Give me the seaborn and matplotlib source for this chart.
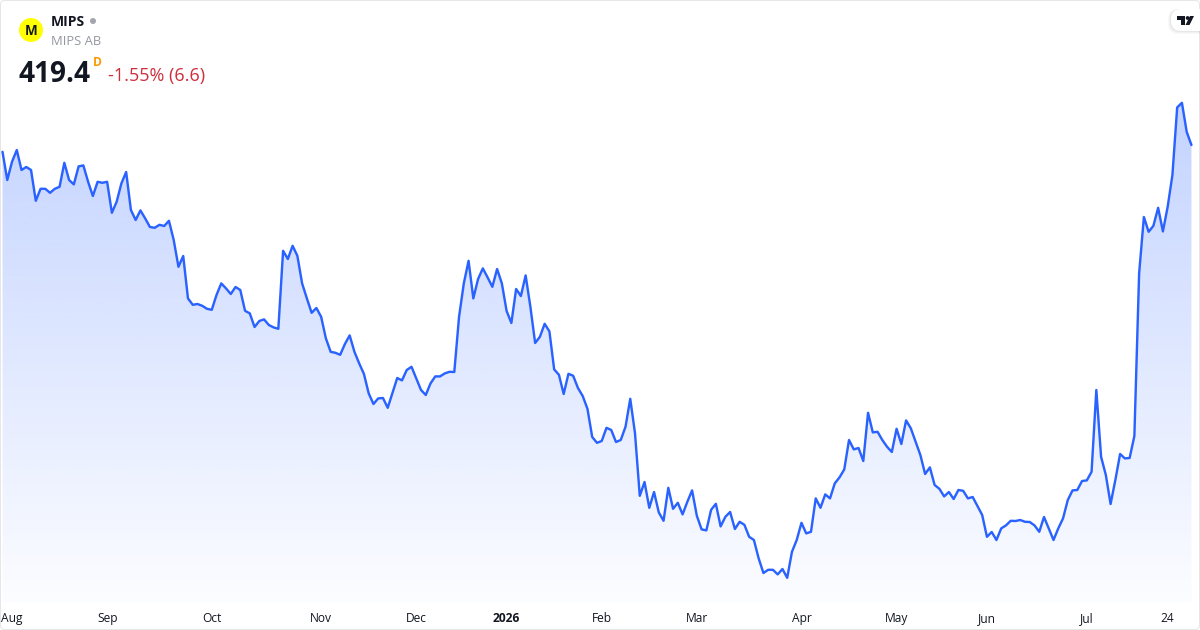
import numpy as np
import pandas as pd
import seaborn as sns
import matplotlib
matplotlib.use("Agg")
import matplotlib.pyplot as plt
from matplotlib.patches import Circle, FancyBboxPatch, Polygon, Rectangle
from matplotlib.transforms import ScaledTranslation

# ---- data -------------------------------------------------------------
prices = [
    416.0, 401.9, 411.0, 416.9, 406.9, 408.4, 406.9, 391.5, 397.5, 397.5,
    395.5, 397.5, 398.5, 410.5, 401.9, 399.7, 408.7, 409.2, 401.0, 393.9,
    401.0, 400.5, 401.0, 385.5, 391.0, 400.2, 405.9, 386.9, 381.9, 386.7,
    382.7, 378.4, 378.0, 379.5, 378.9, 381.5, 371.9, 358.5, 363.9, 342.7,
    339.5, 339.9, 339.0, 337.5, 337.0, 344.4, 350.2, 347.7, 344.9, 348.4,
    346.9, 336.5, 335.2, 328.4, 331.4, 332.2, 329.4, 328.2, 327.5, 366.5,
    362.4, 369.0, 364.0, 350.2, 342.7, 335.5, 337.9, 333.5, 322.7, 316.0,
    315.5, 314.5, 319.9, 324.2, 316.0, 310.2, 304.9, 295.2, 289.9, 292.7,
    292.9, 288.0, 295.5, 302.9, 301.7, 306.9, 308.5, 302.7, 296.9, 294.4,
    300.2, 303.7, 303.7, 305.2, 306.0, 305.9, 333.5, 350.2, 361.5, 342.7,
    352.4, 357.7, 353.2, 348.5, 357.4, 350.2, 336.4, 330.4, 347.4, 343.9,
    354.2, 338.5, 320.4, 323.5, 330.0, 326.2, 307.2, 304.5, 294.9, 305.0,
    304.0, 297.9, 293.9, 287.5, 273.4, 270.5, 271.4, 278.0, 276.9, 270.9,
    271.9, 278.5, 292.5, 275.2, 244.0, 250.9, 238.0, 245.9, 235.7, 231.5,
    248.0, 237.5, 240.5, 234.7, 241.0, 246.7, 234.0, 227.2, 226.7, 237.0,
    240.0, 228.7, 233.5, 235.9, 227.4, 231.0, 229.5, 223.5, 221.9, 212.7,
    205.4, 207.0, 207.0, 204.7, 207.4, 203.0, 216.0, 221.9, 230.5, 225.2,
    226.0, 242.7, 238.0, 244.7, 242.7, 250.2, 253.2, 257.2, 271.9, 267.2,
    267.9, 261.4, 285.5, 275.7, 276.0, 271.9, 268.5, 265.9, 277.5, 269.9,
    281.7, 277.7, 271.0, 264.4, 254.9, 258.2, 249.4, 247.5, 243.7, 245.9,
    242.4, 246.9, 246.5, 242.7, 243.4, 238.9, 234.4, 223.5, 225.9, 221.9,
    227.7, 229.2, 231.5, 231.4, 231.9, 231.0, 230.9, 229.2, 226.0, 233.4,
    227.7, 221.9, 227.7, 232.7, 241.9, 246.7, 246.9, 251.4, 251.7, 256.0,
    296.9, 263.5, 254.4, 239.9, 251.9, 264.9, 262.7, 262.9, 273.9, 355.2,
    383.4, 376.0, 379.0, 388.0, 376.2, 388.5, 404.4, 438.2, 440.5, 426.0,
    419.4,
]
tick_sessions = [0, 22, 44, 67, 87, 106, 126, 146, 168, 188, 207, 228, 245]
tick_labels = ["Aug", "Sep", "Oct", "Nov", "Dec", "2026", "Feb", "Mar",
               "Apr", "May", "Jun", "Jul", "24"]
ticker = "MIPS"
company = "MIPS AB"
last_price = "419.4"
change_text = "-1.55% (6.6)"

# ---- styling ----------------------------------------------------------
sns.set_theme(style="white")
plt.rcParams["font.family"] = ["Open Sans", "DejaVu Sans"]
PX = 72 / 100  # points per pixel at dpi 100
LINE = "#2962FF"

df = pd.DataFrame({"session": np.arange(len(prices)), "price": prices})

fig = plt.figure(figsize=(12, 6.3), dpi=100, facecolor="white")
ax = fig.add_axes([0, 27 / 630, 1, 603 / 630])
ax.set_facecolor("none")

x0, x1 = -0.526, 251.8
y0, y1 = 190.4, 491.9

# gradient area under the line
poly = ax.fill_between(df["session"], df["price"], y0, color="none", lw=0)
top_y, bot_y = df["price"].max(), y0
grad = np.zeros((256, 1, 4))
grad[..., :3] = matplotlib.colors.to_rgb(LINE)
grad[..., 3] = np.linspace(0.28, 0.015, 256)[:, None]
im = ax.imshow(grad, extent=[x0, x1, bot_y, top_y], origin="upper",
               aspect="auto", zorder=1, interpolation="bilinear")
path = poly.get_paths()[0]
im.set_clip_path(path, transform=ax.transData)

sns.lineplot(data=df, x="session", y="price", ax=ax, color=LINE,
             linewidth=2.4 * PX, zorder=3, errorbar=None)
ax.lines[-1].set_solid_joinstyle("round")

ax.set_xlim(x0, x1)
ax.set_ylim(y0, y1)
ax.set_xlabel("")
ax.set_ylabel("")
ax.set_yticks([])
ax.set_xticks(tick_sessions)
ax.set_xticklabels(tick_labels, fontsize=12 * PX, color="#131722")
ax.tick_params(axis="x", length=0, pad=9 * PX)
for lab, name in zip(ax.get_xticklabels(), tick_labels):
    if name == "Aug":
        lab.set_ha("left")
        lab.set_transform(lab.get_transform()
                          + ScaledTranslation(-1.5 / 100, 0, fig.dpi_scale_trans))
    if name == "2026":
        lab.set_fontweight("bold")
for s in ax.spines.values():
    s.set_visible(False)

# ---- overlay in pixel coordinates ---------------------------------------
ov = fig.add_axes([0, 0, 1, 1], zorder=5)
ov.set_xlim(0, 1200)
ov.set_ylim(630, 0)
ov.axis("off")
ov.patch.set_alpha(0)

# card border
ov.add_patch(FancyBboxPatch((0.5, 0.5), 1199, 629,
                            boxstyle="round,pad=0,rounding_size=4",
                            fc="none", ec="#E6E6E9", lw=1 * PX))

# logo
ov.add_patch(Circle((31, 30), 12, fc="#FFFF00", ec="none"))
ov.text(31, 31, "M", fontsize=13.5 * PX, fontweight="bold", color="#131722",
        ha="center", va="center")
ov.text(51, 22.3, ticker, fontsize=14 * PX, fontweight="bold", color="#131722",
        va="center", ha="left")
ov.add_patch(Circle((93, 21), 3, fc="#A3A6AF", ec="none"))
ov.text(51, 41.5, company, fontsize=13 * PX, color="#9598A1", va="center", ha="left")
ov.text(18.5, 74, last_price, fontsize=28 * PX, fontweight="bold", color="#131722",
        va="center", ha="left")
ov.text(93, 62.5, "D", fontsize=12 * PX, fontweight="bold", color="#FF9800",
        va="center", ha="left")
ov.text(108, 76.5, change_text, fontsize=18 * PX, color="#CC2F3C",
        va="center", ha="left")

# TradingView badge
for off, a in [(3, 0.025), (2, 0.03), (1, 0.04)]:
    ov.add_patch(FancyBboxPatch((1171 - off, 9), 40 + off, 22 + off,
                                boxstyle="round,pad=0,rounding_size=10",
                                fc="black", ec="none", alpha=a))
ov.add_patch(FancyBboxPatch((1171, 9), 40, 22,
                            boxstyle="round,pad=0,rounding_size=10",
                            fc="white", ec="none"))
ov.plot([1199.5, 1199.5], [4, 35], color="#E6E6E9", lw=1 * PX)
k = "#131722"
ov.add_patch(Polygon([(1177, 16), (1185, 16), (1185, 25), (1181, 25), (1181, 20), (1177, 20)],
                     fc=k, ec="none"))
ov.add_patch(Circle((1187.6, 18), 1.9, fc=k, ec="none"))
ov.add_patch(Polygon([(1190, 16), (1194, 16), (1189.5, 25), (1185.5, 25)],
                     fc=k, ec="none"))

fig.savefig("out.png", dpi=100)
